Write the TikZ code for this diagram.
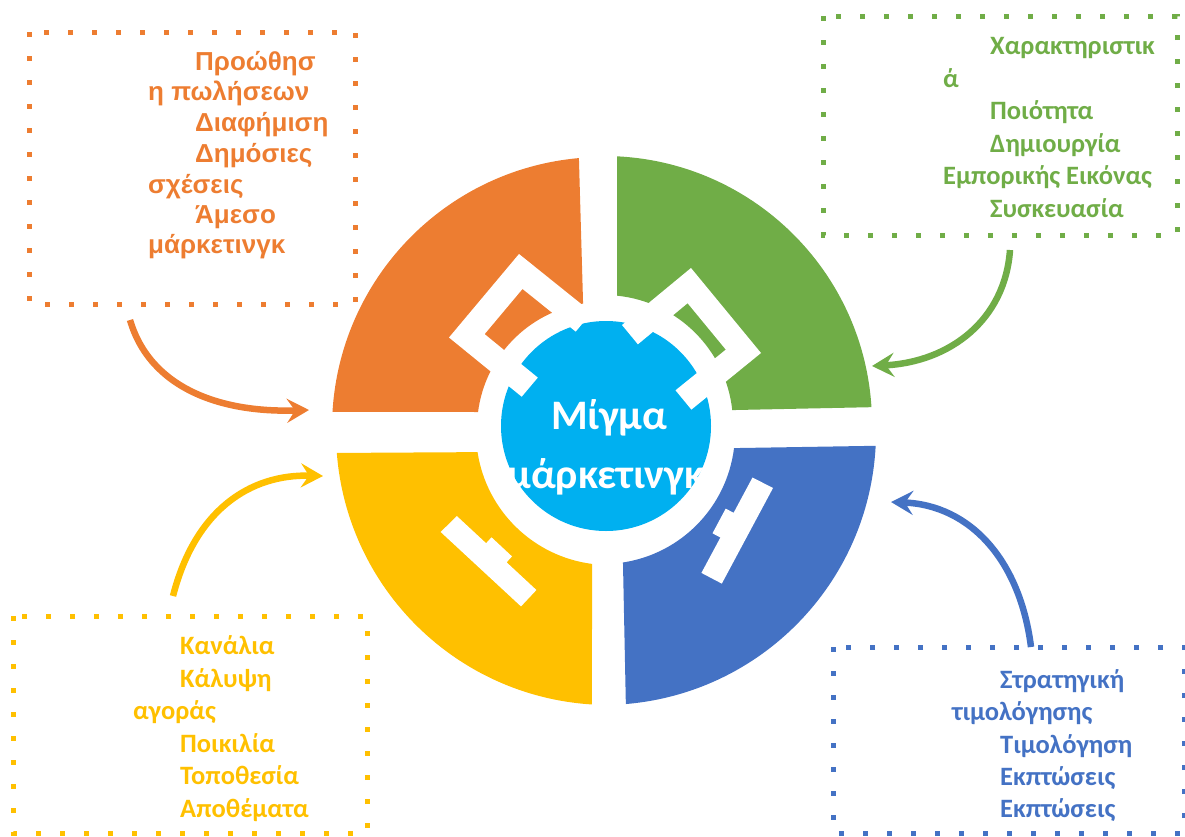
\documentclass[tikz,border=0pt]{standalone}
\usepackage{fontspec}
\setmainfont{Carlito}
\newfontfamily\arialfont{Liberation Sans}
\usetikzlibrary{arrows.meta}

\definecolor{mkOrange}{HTML}{ED7D31}
\definecolor{mkGreen}{HTML}{70AD47}
\definecolor{mkBlue}{HTML}{4472C4}
\definecolor{mkYellow}{HTML}{FFC000}
\definecolor{mkCyan}{HTML}{00B0F0}

\tikzset{
	dotbox/.style={line width=5pt, dash pattern=on 5pt off 19pt},
	bendarrow/.style={line width=6.5pt, -{Stealth[length=22pt,width=24pt,inset=8pt]}},
	itemtext/.style={anchor=base west, inner sep=0pt, font=\fontsize{26.5}{30}\selectfont\bfseries},
	arialtext/.style={anchor=base west, inner sep=0pt, font=\arialfont\fontsize{26}{30}\selectfont\bfseries},
	hubtext/.style={anchor=base, inner sep=0pt, white, font=\fontsize{42}{44}\selectfont\bfseries},
}

\begin{document}
\begin{tikzpicture}[x=1pt,y=1pt,yscale=-1,xscale=1]
	\useasboundingbox (0,0) rectangle (1185,836);

	% four pieces of the ring
	\coordinate (cO) at (603,428);
	\coordinate (cG) at (604,424);
	\coordinate (cB) at (603,432);
	\coordinate (cY) at (609,432);
	\coordinate (cM) at (606,426);
	\path (cO) ++(-172.7:126) coordinate (iO);
	\path (cG) ++(-6.2:129) coordinate (iG);
	\path (cB) ++(81.3:132) coordinate (iB);
	\path (cY) ++(-262.7:133) coordinate (iY);
	\fill[mkOrange] (cO) ++(-95.1:271) arc[start angle=-95.1,end angle=-176.6,radius=271] -- (iO) arc[start angle=-172.7,end angle=-99.1,radius=126] -- cycle;
	\fill[mkGreen] (cG) ++(-87.2:268) arc[start angle=-87.2,end angle=-3.6,radius=268] -- (iG) arc[start angle=-6.2,end angle=-84.2,radius=129] -- cycle;
	\fill[mkBlue] (cB) ++(2.9:273) arc[start angle=2.9,end angle=85.2,radius=273] -- (iB) arc[start angle=81.3,end angle=7,radius=132] -- cycle;
	\fill[mkYellow] (cY) ++(-184.4:273) arc[start angle=-184.4,end angle=-266.4,radius=273] -- (iY) arc[start angle=-262.7,end angle=-188.7,radius=133] -- cycle;

	\fill[mkCyan] (cM) circle (105);

	% white icons
	\fill[white] (591.7,312.4) -- (519,254) -- (449,337.5) -- (521.7,396.7) -- (537.8,377.6) -- (484.6,334.1) -- (522.5,288.9) -- (575.7,331.6) -- cycle;
	\fill[white] (622,325) -- (691,268) -- (761,353) -- (691.4,409.6) -- (675.5,390.3) -- (725.8,349.6) -- (687.6,303.2) -- (637.9,344.3) -- cycle;
	\fill[white] (752.5,477.5) -- (773,488) -- (721.8,583.6) -- (701.4,572.9) -- (720.4,537.5) -- (712.5,533.3) -- (725.7,508.6) -- (733.6,512.8) -- cycle;
	\fill[white] (456.8,516) -- (486.1,543.2) -- (491.5,537.3) -- (512,556.4) -- (506.6,562.3) -- (536.4,590) -- (521,606.4) -- (440.7,532) -- cycle;

	\node[hubtext] (mix1) at (609,429) {Μίγμα};
	\node[hubtext] (mix2) at (606,488) {μάρκετινγκ};

	% dotted boxes
	\draw[mkOrange, dotbox] (29,32) rectangle (355,304);
	\draw[mkGreen, dotbox] (823,16) rectangle (1177,235);
	\draw[mkYellow, dotbox] (13,616) rectangle (367,833);
	\draw[mkBlue, dotbox] (833,647) rectangle (1184,833);

	\draw (195,70) node [arialtext, mkOrange] (pr1) {Προώθησ};
	\draw (148,100) node [arialtext, mkOrange] (pr2) {η πωλήσεων};
	\draw (195,131) node [arialtext, mkOrange] (pr3) {Διαφήμιση};
	\draw (195,162) node [arialtext, mkOrange] (pr4) {Δημόσιες};
	\draw (148,193) node [arialtext, mkOrange] (pr5) {σχέσεις};
	\draw (195,223) node [arialtext, mkOrange] (pr6) {Άμεσο};
	\draw (148,253) node [arialtext, mkOrange] (pr7) {μάρκετινγκ};

	\draw (990,54) node [itemtext, mkGreen] (pd1) {Χαρακτηριστικ};
	\draw (943,87) node [itemtext, mkGreen] (pd2) {ά};
	\draw (990,119) node [itemtext, mkGreen] (pd3) {Ποιότητα};
	\draw (990,152) node [itemtext, mkGreen] (pd4) {Δημιουργία};
	\draw (943,184) node [itemtext, mkGreen] (pd5) {Εμπορικής Εικόνας};
	\draw (990,217) node [itemtext, mkGreen] (pd6) {Συσκευασία};

	\draw (180,654) node [itemtext, mkYellow] (pl1) {Κανάλια};
	\draw (180,687) node [itemtext, mkYellow] (pl2) {Κάλυψη};
	\draw (133,719) node [itemtext, mkYellow] (pl3) {αγοράς};
	\draw (180,752) node [itemtext, mkYellow] (pl4) {Ποικιλία};
	\draw (180,784) node [itemtext, mkYellow] (pl5) {Τοποθεσία};
	\draw (180,817) node [itemtext, mkYellow] (pl6) {Αποθέματα};

	\draw (1000,688) node [itemtext, mkBlue] (pc1) {Στρατηγική};
	\draw (952,720) node [itemtext, mkBlue] (pc2) {τιμολόγησης};
	\draw (1000,753) node [itemtext, mkBlue] (pc3) {Τιμολόγηση};
	\draw (1000,785) node [itemtext, mkBlue] (pc4) {Εκπτώσεις};
	\draw (1000,817) node [itemtext, mkBlue] (pc5) {Εκπτώσεις};

	% curved arrows
	\coordinate (ao1) at (130,320);
	\coordinate (ao2) at (309,410);
	\coordinate (ag1) at (1010,250);
	\coordinate (ag2) at (872,366);
	\coordinate (ay1) at (173,596);
	\coordinate (ay2) at (323,476);
	\coordinate (ab1) at (1031,647);
	\coordinate (ab2) at (891,502);
	\draw[mkOrange, bendarrow] (ao1) .. controls (150,388) and (220,413) .. (ao2);
	\draw[mkGreen, bendarrow] (ag1) .. controls (1005,320) and (950,362) .. (ag2);
	\draw[mkYellow, bendarrow] (ay1) .. controls (195,510) and (250,474) .. (ay2);
	\draw[mkBlue, bendarrow] (ab1) .. controls (1020,560) and (970,505) .. (ab2);
\end{tikzpicture}
\end{document}
